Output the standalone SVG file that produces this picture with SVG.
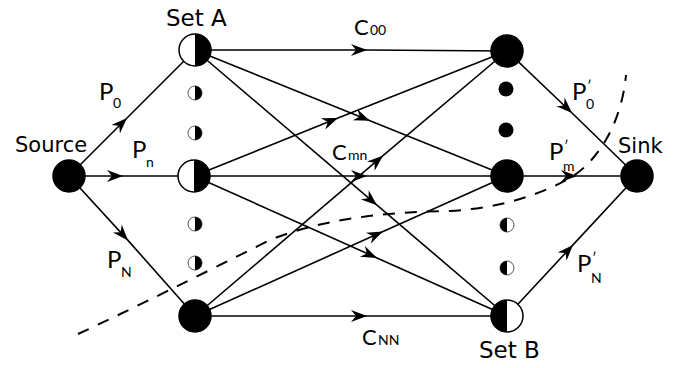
<svg xmlns="http://www.w3.org/2000/svg" width="684" height="368" viewBox="0 0 684 368">
  <style>
    .edge { fill: none; stroke: #000; stroke-width: 1.6; marker-mid: url(#arrow); }
    .node { fill: #000; stroke: #000; stroke-width: 1.5; }
    .half { fill: #fff; stroke: #000; stroke-width: 1.5; }
    .dot-half { fill: #fff; stroke: #555; stroke-width: 1; }
    .fill { fill: #000; }
    .name { font-family: "DejaVu Sans", sans-serif; font-size: 21px; fill: #000; }
    .set { font-size: 23px; }
    .lbl { font-family: Lato, "Liberation Sans", sans-serif; font-size: 22px; fill: #000; }
    .p { font-size: 24px; }
    .sub { font-size: 14px; }
    .cut { fill: none; stroke: #000; stroke-width: 2; stroke-dasharray: 12 10; }
  </style>
  <defs>
    <marker id="arrow" markerUnits="userSpaceOnUse" viewBox="-17 -7 19 14" markerWidth="19" markerHeight="14" refX="0" refY="0" orient="auto">
      <path d="M0,0 L-16,-6 L-11,0 L-16,6 Z" fill="#000"/>
    </marker>
  </defs>

  <!-- connectors: each path passes through its arrow tip -->
  <g id="connectors">
    <path class="edge" d="M69,176 L127,118 L195,50"/>
    <path class="edge" d="M69,176 L123,176 L194,176"/>
    <path class="edge" d="M69,176 L128,240.4 L195,316"/>

    <path class="edge" d="M195,50 L367,50 L507,51"/>
    <path class="edge" d="M195,50 L370,120.7 L507,176"/>
    <path class="edge" d="M195,50 L377,205.2 L507,316"/>
    <path class="edge" d="M194,176 L338,118 L507,51"/>
    <path class="edge" d="M194,176 L367,176 L507,176"/>
    <path class="edge" d="M194,176 L377,257.9 L507,316"/>
    <path class="edge" d="M195,316 L383,155.7 L507,51"/>
    <path class="edge" d="M195,316 L383,231.6 L507,176"/>
    <path class="edge" d="M195,316 L367,316 L507,316"/>

    <path class="edge" d="M507,51 L572,113 L637,176"/>
    <path class="edge" d="M507,176 L577,176 L637,176"/>
    <path class="edge" d="M507,316 L573,244.9 L637,176"/>
  </g>

  <!-- cut line -->
  <path id="cut" class="cut" d="M78,334 C130,310 200,275 270,240 C320,220 380,212 450,211 C500,208 540,195 570,178 C600,160 622,120 626,75"/>

  <!-- source and sink -->
  <g id="source">
    <circle class="node" cx="69" cy="176" r="16"/>
    <text class="name" x="15" y="152">Source</text>
  </g>
  <g id="sink">
    <circle class="node" cx="637" cy="176" r="16"/>
    <text class="name" x="618" y="153">Sink</text>
  </g>

  <!-- set A: left half white, right half black -->
  <g id="set-a-0">
    <circle class="half" cx="195" cy="50" r="16"/>
    <path class="fill" d="M195,34 A16,16 0 0 1 195,66 Z"/>
    <text class="name set" x="166" y="26">Set A</text>
  </g>
  <g id="set-a-n">
    <circle class="half" cx="194" cy="176" r="16"/>
    <path class="fill" d="M194,160 A16,16 0 0 1 194,192 Z"/>
  </g>
  <g id="set-a-N">
    <circle class="node" cx="195" cy="316" r="16"/>
  </g>
  <g id="set-a-dots">
    <circle class="dot-half" cx="195" cy="93" r="7"/>
    <path class="fill" d="M195,86 A7,7 0 0 1 195,100 Z"/>
    <circle class="dot-half" cx="195" cy="133" r="7"/>
    <path class="fill" d="M195,126 A7,7 0 0 1 195,140 Z"/>
    <circle class="dot-half" cx="195" cy="224" r="7"/>
    <path class="fill" d="M195,217 A7,7 0 0 1 195,231 Z"/>
    <circle class="dot-half" cx="195" cy="263" r="7"/>
    <path class="fill" d="M195,256 A7,7 0 0 1 195,270 Z"/>
  </g>

  <!-- set B: left half black, right half white -->
  <g id="set-b-0">
    <circle class="node" cx="507" cy="51" r="16"/>
  </g>
  <g id="set-b-m">
    <circle class="node" cx="507" cy="176" r="16"/>
  </g>
  <g id="set-b-N">
    <circle class="half" cx="507" cy="316" r="16"/>
    <path class="fill" d="M507,300 A16,16 0 0 0 507,332 Z"/>
    <text class="name set" x="479" y="358">Set B</text>
  </g>
  <g id="set-b-dots">
    <circle class="fill" cx="506" cy="89" r="7.5"/>
    <circle class="fill" cx="506" cy="130" r="7.5"/>
    <circle class="dot-half" cx="507" cy="225" r="7"/>
    <path class="fill" d="M507,218 A7,7 0 0 0 507,232 Z"/>
    <circle class="dot-half" cx="507" cy="268" r="7"/>
    <path class="fill" d="M507,261 A7,7 0 0 0 507,275 Z"/>
  </g>

  <!-- flow labels -->
  <g id="labels">
    <text class="lbl p"><tspan x="99" y="100">P</tspan><tspan class="sub" x="113" y="108">0</tspan></text>
    <text class="lbl p"><tspan x="132" y="158">P</tspan><tspan class="sub" x="146" y="167">n</tspan></text>
    <text class="lbl p"><tspan x="107" y="268">P</tspan><tspan class="sub" x="121" y="277">N</tspan></text>

    <text class="lbl"><tspan x="354" y="35">C</tspan><tspan class="sub" x="370" y="35">00</tspan></text>
    <text class="lbl"><tspan x="332" y="160">C</tspan><tspan class="sub" x="348" y="160">mn</tspan></text>
    <text class="lbl"><tspan x="362" y="345">C</tspan><tspan class="sub" x="378" y="345">NN</tspan></text>

    <text class="lbl p"><tspan x="572" y="100">P</tspan><tspan class="sub" x="587" y="91">′</tspan><tspan class="sub" x="586" y="109">0</tspan></text>
    <text class="lbl p"><tspan x="549" y="160">P</tspan><tspan class="sub" x="564" y="151">′</tspan><tspan class="sub" x="563" y="171">m</tspan></text>
    <text class="lbl p"><tspan x="577" y="272">P</tspan><tspan class="sub" x="592" y="263">′</tspan><tspan class="sub" x="591" y="283">N</tspan></text>
  </g>
</svg>
